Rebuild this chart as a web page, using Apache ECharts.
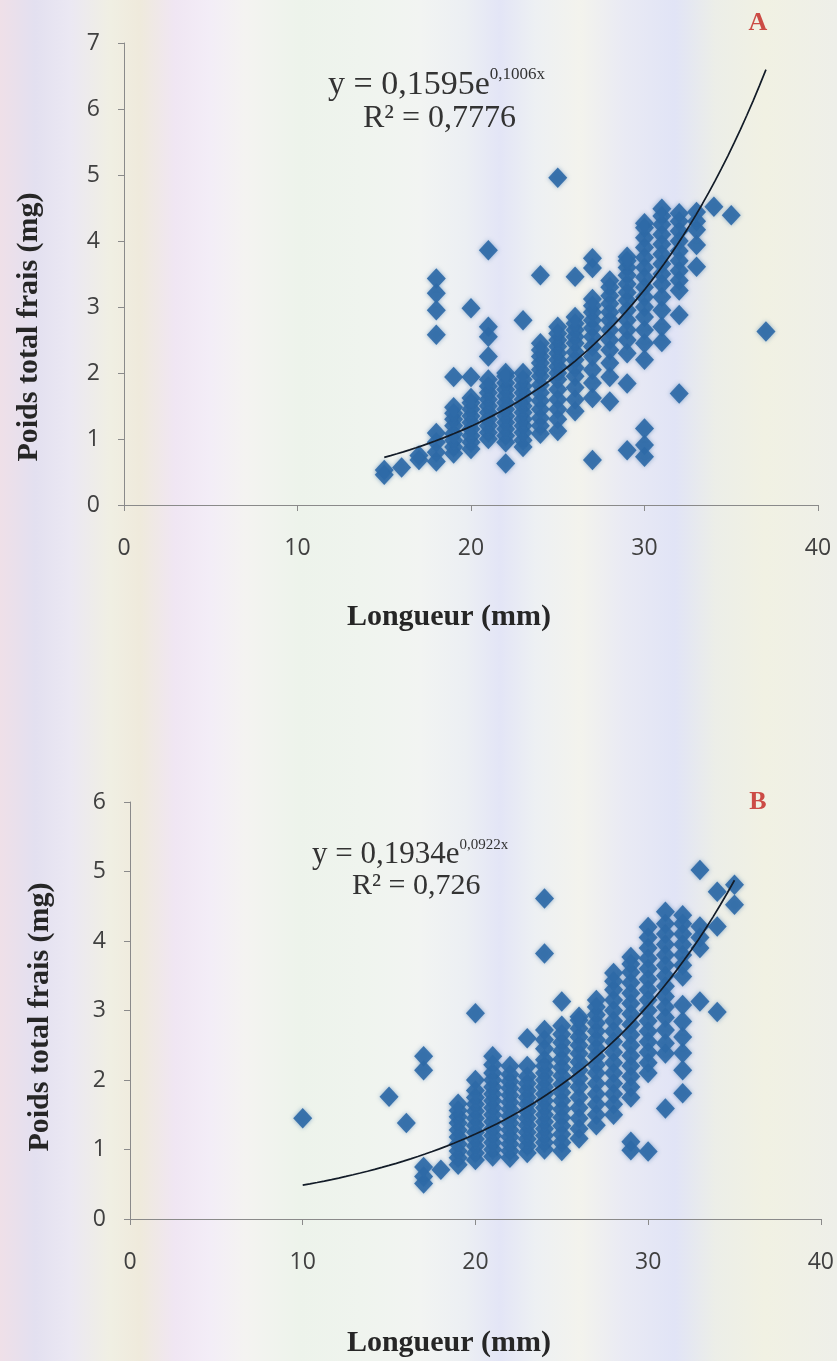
<!DOCTYPE html>
<html>
<head>
<meta charset="utf-8">
<script src="https://cdn.jsdelivr.net/npm/echarts@6/dist/echarts.min.js"></script>
<style>
  html, body { margin: 0; padding: 0; }
  #chart {
    width: 837px; height: 1361px;
    background: linear-gradient(to right,
      #efe0e8 0px, #e3e0f0 35px, #ebe8f3 70px, #f0efe3 110px, #efeadc 140px,
      #f0e6f3 175px, #f3edf7 210px, #f4f3f1 245px, #edf3eb 300px, #eff4ee 360px,
      #f2f4f2 420px, #eceff3 465px, #e3e5f6 500px, #edf0f3 535px, #f3f3ed 580px,
      #e9eaf4 625px, #e1e4f6 675px, #eceee8 715px, #f1f1e3 765px, #eeefe9 837px);
  }
</style>
</head>
<body>
<div id="chart"></div>
<script>
// ---- Data ----
const xTicks = [0, 10, 20, 30, 40];

// Panel A: Longueur (mm) vs Poids total frais (mg)
const pointsA = [
  [15,0.46],[15,0.53],
  [16,0.57],
  [17,0.68],[17,0.75],
  [18,0.66],[18,0.8],[18,0.95],[18,1.09],[18,2.58],[18,2.95],[18,3.21],[18,3.43],
  [19,0.78],[19,0.88],[19,0.98],[19,1.08],[19,1.2],[19,1.3],[19,1.39],[19,1.48],[19,1.94],
  [20,0.85],[20,0.95],[20,1.05],[20,1.15],[20,1.25],[20,1.35],[20,1.45],[20,1.55],[20,1.62],[20,1.94],[20,2.98],
  [21,1.0],[21,1.1],[21,1.2],[21,1.3],[21,1.4],[21,1.5],[21,1.6],[21,1.7],[21,1.8],[21,1.9],[21,2.25],[21,2.55],[21,2.7],[21,3.86],
  [22,0.63],[22,0.95],[22,1.05],[22,1.15],[22,1.25],[22,1.35],[22,1.45],[22,1.55],[22,1.65],[22,1.75],[22,1.85],[22,1.95],[22,2.0],
  [23,0.88],[23,0.98],[23,1.1],[23,1.2],[23,1.3],[23,1.4],[23,1.5],[23,1.6],[23,1.7],[23,1.8],[23,1.9],[23,2.0],[23,2.8],
  [24,1.08],[24,1.2],[24,1.32],[24,1.45],[24,1.58],[24,1.7],[24,1.82],[24,1.95],[24,2.05],[24,2.15],[24,2.25],[24,2.35],[24,2.45],[24,3.48],
  [25,1.12],[25,1.3],[25,1.45],[25,1.6],[25,1.75],[25,1.9],[25,2.0],[25,2.1],[25,2.2],[25,2.3],[25,2.4],[25,2.5],[25,2.6],[25,2.7],[25,4.96],
  [26,1.42],[26,1.6],[26,1.78],[26,1.95],[26,2.08],[26,2.2],[26,2.32],[26,2.45],[26,2.55],[26,2.65],[26,2.75],[26,2.85],[26,3.46],
  [27,0.68],[27,1.62],[27,1.85],[27,2.05],[27,2.25],[27,2.4],[27,2.55],[27,2.68],[27,2.8],[27,2.92],[27,3.02],[27,3.12],[27,3.59],[27,3.74],
  [28,1.57],[28,1.94],[28,2.15],[28,2.35],[28,2.5],[28,2.65],[28,2.8],[28,2.92],[28,3.05],[28,3.17],[28,3.3],[28,3.4],
  [29,0.83],[29,1.84],[29,2.3],[29,2.5],[29,2.65],[29,2.8],[29,2.95],[29,3.1],[29,3.22],[29,3.35],[29,3.48],[29,3.6],[29,3.7],[29,3.76],
  [30,0.73],[30,0.91],[30,1.16],[30,2.2],[30,2.45],[30,2.65],[30,2.85],[30,3.0],[30,3.15],[30,3.3],[30,3.45],[30,3.6],[30,3.75],[30,3.9],[30,4.05],[30,4.2],[30,4.27],
  [31,2.47],[31,2.7],[31,2.95],[31,3.15],[31,3.35],[31,3.5],[31,3.65],[31,3.8],[31,3.95],[31,4.1],[31,4.25],[31,4.38],[31,4.49],
  [32,1.69],[32,2.88],[32,3.25],[32,3.4],[32,3.55],[32,3.7],[32,3.85],[32,4.0],[32,4.15],[32,4.3],[32,4.42],
  [33,3.61],[33,3.94],[33,4.17],[33,4.3],[33,4.44],
  [34,4.52],
  [35,4.39],
  [37,2.63]
];

// Panel B
const pointsB = [
  [10,1.45],
  [15,1.76],
  [16,1.38],
  [17,0.51],[17,0.61],[17,0.75],[17,2.14],[17,2.34],
  [18,0.71],
  [19,0.78],[19,0.88],[19,0.98],[19,1.08],[19,1.18],[19,1.28],[19,1.38],[19,1.47],[19,1.56],[19,1.66],
  [20,0.85],[20,0.95],[20,1.05],[20,1.15],[20,1.25],[20,1.35],[20,1.45],[20,1.55],[20,1.65],[20,1.75],[20,1.85],[20,2.0],[20,2.96],
  [21,0.9],[21,1.0],[21,1.1],[21,1.2],[21,1.3],[21,1.4],[21,1.5],[21,1.6],[21,1.7],[21,1.8],[21,1.9],[21,2.0],[21,2.1],[21,2.22],[21,2.34],
  [22,0.88],[22,0.98],[22,1.08],[22,1.18],[22,1.28],[22,1.38],[22,1.48],[22,1.58],[22,1.68],[22,1.78],[22,1.88],[22,1.98],[22,2.08],[22,2.2],
  [23,0.95],[23,1.05],[23,1.15],[23,1.25],[23,1.35],[23,1.45],[23,1.55],[23,1.65],[23,1.75],[23,1.85],[23,1.95],[23,2.05],[23,2.2],[23,2.6],
  [24,1.0],[24,1.1],[24,1.2],[24,1.3],[24,1.4],[24,1.5],[24,1.6],[24,1.7],[24,1.8],[24,1.9],[24,2.0],[24,2.1],[24,2.2],[24,2.29],[24,2.45],[24,2.58],[24,2.72],[24,3.82],[24,4.61],
  [25,0.98],[25,1.1],[25,1.22],[25,1.34],[25,1.46],[25,1.58],[25,1.7],[25,1.82],[25,1.94],[25,2.06],[25,2.18],[25,2.3],[25,2.42],[25,2.54],[25,2.66],[25,2.78],[25,3.13],
  [26,1.16],[26,1.3],[26,1.45],[26,1.6],[26,1.75],[26,1.9],[26,2.02],[26,2.14],[26,2.26],[26,2.38],[26,2.5],[26,2.62],[26,2.74],[26,2.86],[26,2.91],
  [27,1.35],[27,1.5],[27,1.65],[27,1.8],[27,1.95],[27,2.1],[27,2.22],[27,2.34],[27,2.46],[27,2.58],[27,2.7],[27,2.82],[27,2.94],[27,3.05],[27,3.15],
  [28,1.5],[28,1.65],[28,1.8],[28,1.95],[28,2.1],[28,2.25],[28,2.4],[28,2.55],[28,2.7],[28,2.85],[28,3.0],[28,3.15],[28,3.3],[28,3.42],[28,3.54],
  [29,0.99],[29,1.11],[29,1.75],[29,1.9],[29,2.05],[29,2.2],[29,2.35],[29,2.5],[29,2.65],[29,2.8],[29,2.95],[29,3.1],[29,3.25],[29,3.4],[29,3.55],[29,3.67],[29,3.77],
  [30,0.97],[30,2.1],[30,2.25],[30,2.4],[30,2.55],[30,2.7],[30,2.85],[30,3.0],[30,3.15],[30,3.3],[30,3.45],[30,3.6],[30,3.75],[30,3.9],[30,4.05],[30,4.2],
  [31,1.59],[31,2.38],[31,2.53],[31,2.72],[31,2.9],[31,3.05],[31,3.2],[31,3.35],[31,3.5],[31,3.65],[31,3.8],[31,3.95],[31,4.1],[31,4.25],[31,4.42],
  [32,1.81],[32,2.14],[32,2.39],[32,2.62],[32,2.84],[32,3.08],[32,3.49],[32,3.65],[32,3.8],[32,3.95],[32,4.1],[32,4.25],[32,4.37],
  [33,3.13],[33,3.9],[33,4.05],[33,4.21],[33,5.02],
  [34,2.98],[34,4.21],[34,4.71],
  [35,4.52],[35,4.81]
];

// Exponential trend lines as printed on the chart: y = a * e^(b x)
const trendA = { a: 0.1595, b: 0.1006, xFrom: 15, xTo: 37 };
const trendB = { a: 0.1934, b: 0.0922, xFrom: 10, xTo: 35 };

function curve(t) {
  const pts = [];
  const n = 60;
  for (let i = 0; i <= n; i++) {
    const x = t.xFrom + (t.xTo - t.xFrom) * i / n;
    pts.push([x, t.a * Math.exp(t.b * x)]);
  }
  return pts;
}

// ---- Styling ----
const axisColor = '#8a8a8a';
const tickFont = 'Open Sans';
const serif = '"Liberation Serif", "Times New Roman", serif';
const markerColor = '#2f6aa7';

function xAx(gi) {
  return {
    gridIndex: gi, type: 'value', min: 0, max: 40, interval: 10,
    axisLine: { show: true, onZero: false, lineStyle: { color: axisColor, width: 1 } },
    axisTick: { show: true, length: 6, inside: false, lineStyle: { color: axisColor } },
    axisLabel: { margin: 32, fontFamily: tickFont, fontSize: 23, color: '#404040' },
    splitLine: { show: false }
  };
}
function yAx(gi, max) {
  return {
    gridIndex: gi, type: 'value', min: 0, max: max, interval: 1,
    axisLine: { show: true, onZero: false, lineStyle: { color: axisColor, width: 1 } },
    axisTick: { show: true, length: 6, inside: false, lineStyle: { color: axisColor } },
    axisLabel: { margin: 24, fontFamily: tickFont, fontSize: 23, color: '#404040' },
    splitLine: { show: false }
  };
}

function eqText(x, y, main, sup, size, supSize) {
  return {
    type: 'text', x: x, y: y, z: 100,
    style: {
      text: '{m|' + main + '}{s|' + sup + '}',
      align: 'left', verticalAlign: 'middle',
      rich: {
        m: { fontSize: size, fontFamily: serif, fill: '#333333', lineHeight: size + 4 },
        s: { fontSize: supSize, fontFamily: serif, fill: '#333333', lineHeight: supSize + 4, verticalAlign: 'top' }
      }
    }
  };
}
function plainText(x, y, text, font, fill, rotation, align) {
  return {
    type: 'text', x: x, y: y, rotation: rotation || 0, z: 100,
    style: { text: text, font: font, fill: fill, align: align || 'center', verticalAlign: 'middle' }
  };
}

const markerStyle = {
  color: markerColor, opacity: 0.92,
  shadowBlur: 4, shadowColor: 'rgba(47,106,167,0.55)'
};

const chart = echarts.init(document.getElementById('chart'), null, { renderer: 'canvas' });
chart.setOption({
  backgroundColor: 'transparent',
  animation: false,
  grid: [
    { left: 124, top: 43, width: 694, height: 462, containLabel: false },
    { left: 130, top: 802, width: 695, height: 417, containLabel: false }
  ],
  xAxis: [xAx(0), xAx(1)],
  yAxis: [yAx(0, 7), yAx(1, 6)],
  series: [
    {
      type: 'scatter', xAxisIndex: 0, yAxisIndex: 0, data: pointsA,
      symbol: 'diamond', symbolSize: [19, 20.5],
      itemStyle: markerStyle
    },
    {
      type: 'line', xAxisIndex: 0, yAxisIndex: 0, data: curve(trendA),
      showSymbol: false, symbol: 'none', smooth: false, silent: true, z: 5,
      lineStyle: { color: '#131c28', width: 1.7 }
    },
    {
      type: 'scatter', xAxisIndex: 1, yAxisIndex: 1, data: pointsB,
      symbol: 'diamond', symbolSize: [19, 20.5],
      itemStyle: markerStyle
    },
    {
      type: 'line', xAxisIndex: 1, yAxisIndex: 1, data: curve(trendB),
      showSymbol: false, symbol: 'none', smooth: false, silent: true, z: 5,
      lineStyle: { color: '#131c28', width: 1.7 }
    }
  ],
  graphic: [
    plainText(758, 23, 'A', 'bold 26px ' + serif, '#cc4b45'),
    plainText(758, 802, 'B', 'bold 26px ' + serif, '#cc4b45'),
    eqText(328, 85, 'y = 0,1595e', '0,1006x', 34, 17),
    plainText(363, 119, 'R² = 0,7776', '32px ' + serif, '#333333', 0, 'left'),
    eqText(312, 855, 'y = 0,1934e', '0,0922x', 31, 15),
    plainText(352, 886, 'R² = 0,726', '30px ' + serif, '#333333', 0, 'left'),
    plainText(449, 617, 'Longueur (mm)', 'bold 30px ' + serif, '#262626'),
    plainText(449, 1343, 'Longueur (mm)', 'bold 30px ' + serif, '#262626'),
    plainText(29, 327, 'Poids total frais (mg)', 'bold 30px ' + serif, '#262626', Math.PI / 2),
    plainText(40, 1017, 'Poids total frais (mg)', 'bold 30px ' + serif, '#262626', Math.PI / 2)
  ]
});
</script>
</body>
</html>
